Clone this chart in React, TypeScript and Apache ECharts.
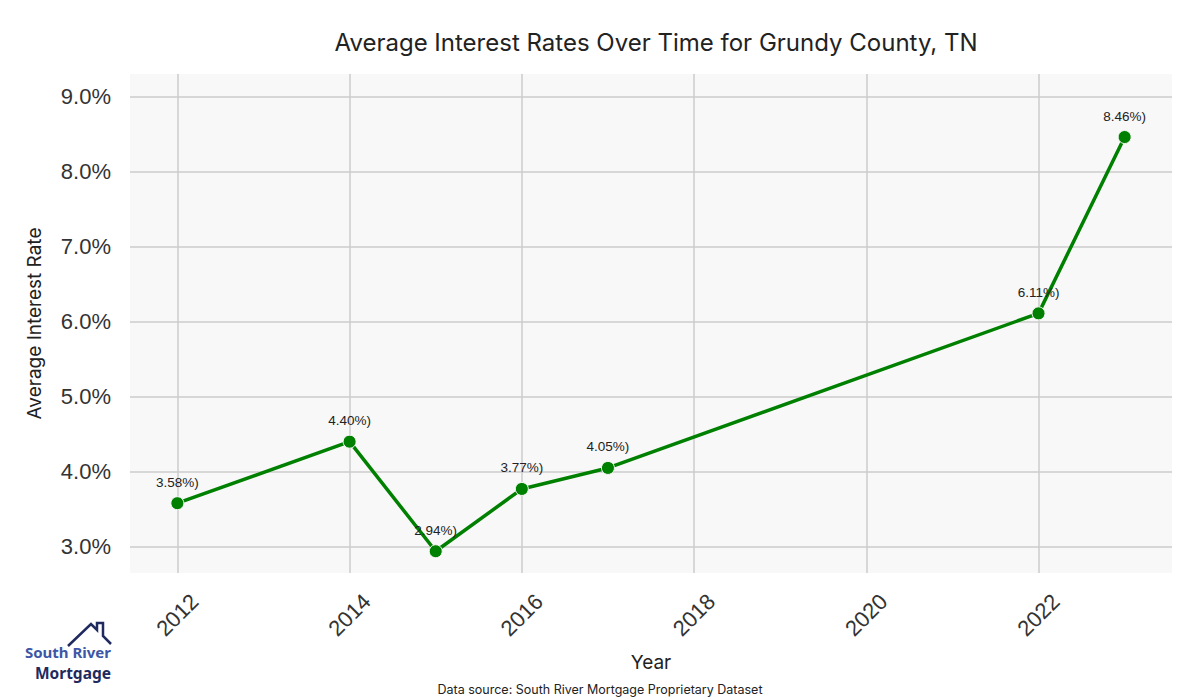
import React, { useEffect, useRef } from "react";
import * as echarts from "echarts";

const years = [2012, 2014, 2015, 2016, 2017, 2022, 2023];
const rates = [3.58, 4.4, 2.94, 3.77, 4.05, 6.11, 8.46];
const xTicks = [2012, 2014, 2016, 2018, 2020, 2022];
const yTicks = [3, 4, 5, 6, 7, 8, 9];

export default function App() {
  const ref = useRef<HTMLDivElement>(null);
  useEffect(() => {
    document.body.style.margin = "0";
    const chart = echarts.init(ref.current!, null, { renderer: "svg" });
    const tickFont = "'Liberation Sans', Arial, sans-serif";
    const titleFont = "Inter, 'Noto Sans', sans-serif";
    chart.setOption({
      animation: false,
      backgroundColor: "#ffffff",
      title: {
        text: "Average Interest Rates Over Time for Grundy County, TN",
        left: 651,
        top: 25,
        textAlign: "center",
        textStyle: { fontFamily: titleFont, fontSize: 24, fontWeight: "normal", color: "#222" },
      },
      grid: { left: 130, right: 28, top: 74, bottom: 127, show: true, backgroundColor: "#f8f8f8", borderWidth: 0 },
      xAxis: {
        type: "value",
        min: 2011.45,
        max: 2023.55,
        name: "Year",
        nameLocation: "middle",
        nameGap: 80,
        nameTextStyle: { fontFamily: titleFont, fontSize: 19, color: "#222" },
        axisLine: { show: false },
        axisTick: { show: false, customValues: xTicks },
        axisLabel: {
          customValues: xTicks,
          rotate: 45,
          margin: 42,
          align: "center",
          verticalAlign: "middle",
          fontFamily: tickFont,
          fontSize: 22,
          color: "#333",
          formatter: (v: number) => String(v),
        },
        splitLine: { show: true, lineStyle: { color: "#cccccc", width: 1.5 } },
      },
      yAxis: {
        type: "value",
        min: 2.65,
        max: 9.3,
        name: "Average Interest Rate",
        nameLocation: "middle",
        nameGap: 86,
        nameTextStyle: { fontFamily: titleFont, fontSize: 19, color: "#222" },
        axisLine: { show: false },
        axisTick: { show: false, customValues: yTicks },
        axisLabel: {
          customValues: yTicks,
          margin: 19,
          fontFamily: tickFont,
          fontSize: 22,
          color: "#333",
          formatter: (v: number) => v.toFixed(1) + "%",
        },
        splitLine: { show: true, lineStyle: { color: "#cccccc", width: 1.5 } },
      },
      series: [
        {
          type: "line",
          data: years.map((y, i) => [y, rates[i]]),
          lineStyle: { color: "#008000", width: 3.5 },
          symbol: "circle",
          symbolSize: 13,
          itemStyle: { color: "#008000", borderColor: "#f8f8f8", borderWidth: 1 },
          label: {
            show: true,
            position: "top",
            distance: 7,
            fontFamily: tickFont,
            fontSize: 13.5,
            color: "#222",
            formatter: (p: any) => p.value[1].toFixed(2) + "%)",
          },
          z: 5,
        },
      ],
      graphic: [
        {
          type: "polyline",
          shape: { points: [[68, 646], [91, 624], [97, 630], [97, 623], [103, 623], [103, 636], [111, 644]] },
          style: { stroke: "#1f2a5e", lineWidth: 2.5, fill: null },
        },
        {
          type: "text",
          x: 111,
          y: 652,
          style: {
            text: "South River",
            textAlign: "right",
            textVerticalAlign: "middle",
            font: "bold 15px 'Noto Sans', sans-serif",
            fill: "#3d56a6",
          },
        },
        {
          type: "text",
          x: 111,
          y: 673,
          style: {
            text: "Mortgage",
            textAlign: "right",
            textVerticalAlign: "middle",
            font: "bold 15.5px 'Noto Sans', sans-serif",
            fill: "#1f2a5e",
          },
        },
        {
          type: "text",
          x: 600,
          y: 689,
          style: {
            text: "Data source: South River Mortgage Proprietary Dataset",
            textAlign: "center",
            textVerticalAlign: "middle",
            font: "12.5px Inter, 'Noto Sans', sans-serif",
            fill: "#222",
          },
        },
      ],
    });
    return () => chart.dispose();
  }, []);
  return <div ref={ref} style={{ width: 1200, height: 700, position: "absolute", left: 0, top: 0 }} />;
}
